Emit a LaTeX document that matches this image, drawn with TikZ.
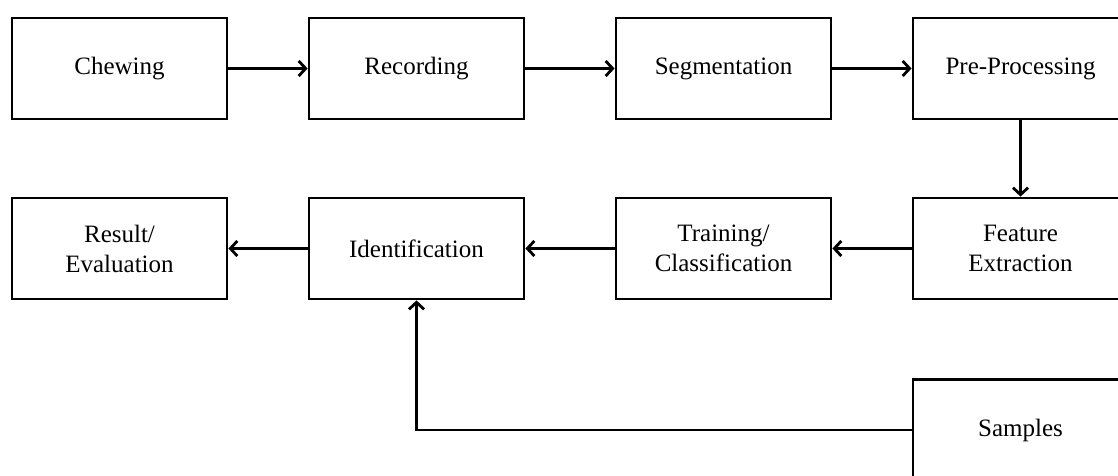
\documentclass[tikz,border=0pt]{standalone}
\usepackage{fontspec}
\setmainfont{Liberation Serif}
\usetikzlibrary{arrows.meta}
\tikzset{
  stage/.style={draw, line width=2.8pt, rectangle, minimum width=215pt, minimum height=101pt,
    inner sep=0pt, align=center, font=\fontsize{25}{30}\selectfont},
  flow/.style={line width=2.8pt, -{Straight Barb[length=7pt,width=15pt]}}
}
\begin{document}
\begin{tikzpicture}[x=1pt,y=-1pt]
\useasboundingbox (0,0) rectangle (1118,476);
\node[stage] (chew) at (119.5,68.5) {Chewing};
\node[stage] (rec)  at (416.5,68.5) {Recording};
\node[stage] (seg)  at (723.5,68.5) {Segmentation};
\node[stage] (pre)  at (1020.5,68.5) {Pre-Processing};
\node[stage] (res)  at (119.5,248.5) {Result/\\Evaluation};
\node[stage] (ident) at (416.5,248.5) {Identification};
\node[stage] (train) at (723.5,248.5) {Training/\\Classification};
\node[stage] (feat) at (1020.5,248.5) {Feature\\Extraction};
\node[stage] (samp) at (1020.5,430) {Samples};
\draw[flow] (chew) -- (rec);
\draw[flow] (rec) -- (seg);
\draw[flow] (seg) -- (pre);
\draw[flow] (pre) -- (feat);
\draw[flow] (feat) -- (train);
\draw[flow] (train) -- (ident);
\draw[flow] (ident) -- (res);
\draw[flow] (samp.west) -| (ident.south);
\end{tikzpicture}
\end{document}
